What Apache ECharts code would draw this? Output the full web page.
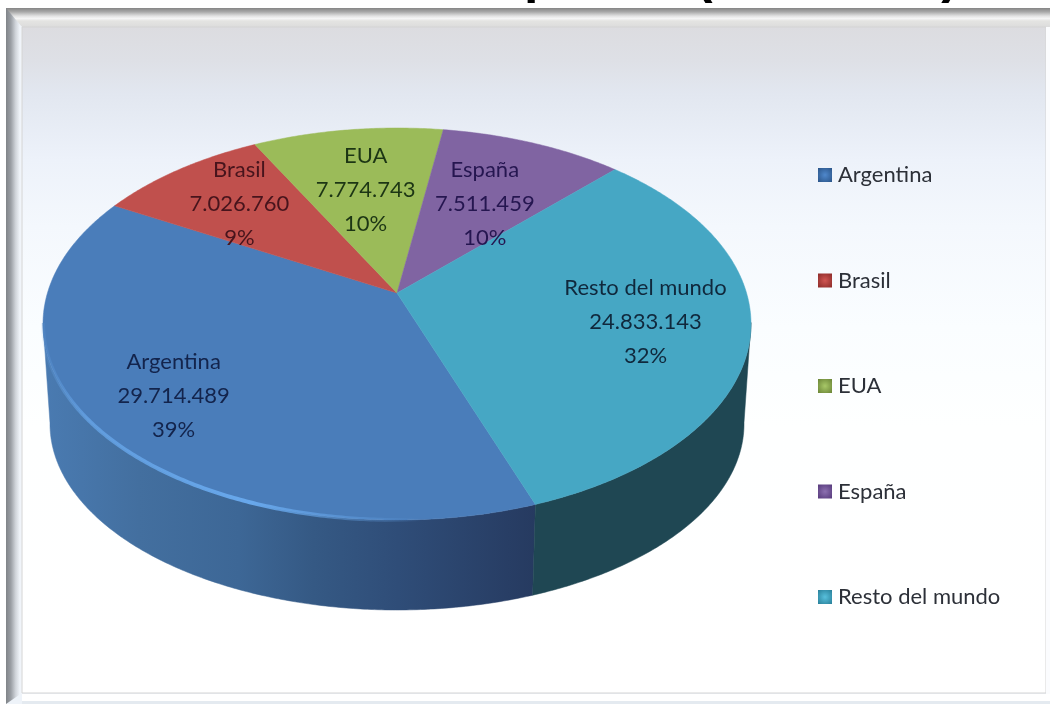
<!DOCTYPE html>
<html><head><meta charset="utf-8">
<style>html,body{margin:0;padding:0;background:#fff;overflow:hidden}#c{width:1050px;height:704px}</style>
<script src="https://cdn.jsdelivr.net/npm/echarts@6/dist/echarts.min.js"></script>
</head><body><div id="c"></div>
<script>
const categories = ['Argentina', 'Brasil', 'EUA', 'España', 'Resto del mundo'];
const values = [29714489, 7026760, 7774743, 7511459, 24833143];

const topColors = ['#4a7dba', '#c0504d', '#9bbb59', '#8064a2', '#46a7c4'];
const labelColors = ['#13244c', '#47141c', '#1c3514', '#251650', '#10283c'];
const legendDark = ['#2a5488', '#8a2a28', '#6a8436', '#55397a', '#287f99'];
const legendLight = ['#4f88cc', '#d05552', '#a8c868', '#8c70b0', '#58c0dc'];
const labelRadius = [0.77, 0.70, 0.60, 0.57, 0.71];
const labelTurn = [0, 0, 0, 2, 0];
const sideFill = [
  {type:'linear',x:40,y:0,x2:537,y2:0,global:true,colorStops:[
    {offset:0,color:'#4a7bb2'},{offset:.2,color:'#436f9f'},{offset:.4,color:'#3d6796'},
    {offset:.55,color:'#355984'},{offset:.72,color:'#2f4d78'},{offset:1,color:'#263a60'}]},
  null, null, null, '#1f4753'
];

const firstAngle = 160.3;
const topE = {cx:397, cy:324, rx:354, ry:196};
const botE = {cx:397, cy:424, rx:347, ry:186};
const k = 0.158, s = Math.sqrt(1 - k * k);
const total = values.reduce((a, b) => a + b, 0);
const rad = d => d * Math.PI / 180;

function unit(r, deg) {
  const v0 = -r * Math.cos(rad(deg)), u0 = r * Math.sin(rad(deg));
  const d = 1 - k * v0;
  return [u0 * s / d, (v0 - k) / d];
}
const onE = (e, p) => [e.cx + e.rx * p[0], e.cy + e.ry * p[1]];

function sliceRange(i) {
  let a = firstAngle;
  for (let j = 0; j < i; j++) a += values[j] / total * 360;
  return [a, a + values[i] / total * 360];
}

function renderSlice(params, api) {
  const i = params.seriesIndex;
  const share = api.value(0) / total;
  const [a, b] = sliceRange(i);
  const topPts = [onE(topE, unit(0, a))];
  const sideTop = [], sideBot = [];
  const n = Math.ceil(b - a) * 2;
  for (let q = 0; q <= n; q++) {
    const th = a + (b - a) * q / n;
    const p = unit(1, th);
    topPts.push(onE(topE, p));
    if (p[1] >= -0.01) { sideTop.push(onE(topE, p)); sideBot.push(onE(botE, p)); }
  }
  const children = [];
  if (sideTop.length > 1 && sideFill[i]) {
    children.push({type:'polygon', z2:0, shape:{points:sideTop.concat(sideBot.reverse())},
      style:{fill:sideFill[i], stroke:sideFill[i], lineWidth:0.5}});
  }
  children.push({type:'polygon', z2:1, shape:{points:topPts},
    style:{fill:topColors[i], stroke:topColors[i], lineWidth:0.5}});
  if (i === 0) {
    children.push({type:'polyline', z2:2, shape:{points:sideTop},
      style:{fill:null, lineWidth:4,
        stroke:{type:'linear',x:42,y:0,x2:420,y2:0,global:true,colorStops:[
          {offset:0,color:'rgba(104,168,236,.1)'},{offset:.12,color:'rgba(104,168,236,.7)'},{offset:.55,color:'rgba(104,168,236,1)'},
          {offset:1,color:'rgba(104,168,236,0)'}]}}});
  }
  const lp = onE(topE, unit(labelRadius[i], (a + b) / 2 + labelTurn[i]));
  const txt = categories[i] + '\n' +
    String(api.value(0)).replace(/\B(?=(\d{3})+$)/g, '.') + '\n' + Math.round(share * 100) + '%';
  children.push({type:'text', z2:10, x:lp[0], y:lp[1],
    style:{text:txt, fill:labelColors[i], font:'22px Lato', lineHeight:34,
      align:'center', verticalAlign:'middle'}});
  return {type:'group', children};
}

const vgrad = (y0, y1, stops) => ({type:'linear',x:0,y:y0,x2:0,y2:y1,global:true,
  colorStops:stops.map(p => ({offset:p[0],color:p[1]}))});
const hgrad = (x0, x1, stops) => ({type:'linear',x:x0,y:0,x2:x1,y2:0,global:true,
  colorStops:stops.map(p => ({offset:p[0],color:p[1]}))});

const titleBits = [['p', 540], ['(', 704], [')', 950]];

const frame = [
  {type:'rect', z:-5, shape:{x:6,y:8,width:1044,height:696}, style:{fill:'#eef3f9'}},
  {type:'rect', z:-4, shape:{x:6,y:8,width:1044,height:19},
   style:{fill:vgrad(8,27,[[0,'#858585'],[.2,'#a8a8a8'],[.42,'#e2e2e2'],[.55,'#f6f6f6'],[.68,'#e4e4e2'],[1,'#dcdcdc']])}},
  {type:'polygon', z:-3, shape:{points:[[6,8],[22,27],[22,693],[6,704]]},
   style:{fill:hgrad(6,22,[[0,'#808488'],[.3,'#9a9ea4'],[.6,'#d0d4da'],[.85,'#eef2f8'],[1,'#f4f8fc']])}},
  {type:'rect', z:-2, shape:{x:22,y:27,width:1024,height:666},
   style:{fill:vgrad(27,693,[[0,'#dcdce0'],[.05,'#dee0e6'],[.1,'#e2e7f0'],[.2,'#edf2fa'],[.3,'#f4f8fd'],[.45,'#fafdff'],[.6,'#feffff'],[1,'#ffffff']]),
          stroke:'#d4d4d4', lineWidth:1}},
  {type:'rect', z:-2, shape:{x:1046,y:27,width:4,height:677}, style:{fill:'#fbfcfe'}},
  {type:'rect', z:-2, shape:{x:22,y:694,width:1028,height:7}, style:{fill:'#ffffff'}},
  {type:'rect', z:-2, shape:{x:22,y:701,width:1028,height:3}, style:{fill:'#e4eaf0'}}
].concat(titleBits.map(t => ({type:'text', z:1, x:t[1], y:4,
  style:{text:t[0], font:'bold 52px "Liberation Sans"', fill:'#000', align:'center', verticalAlign:'bottom'}
  })));

const chart = echarts.init(document.getElementById('c'), null, {renderer:'canvas'});
chart.setOption({
  animation:false,
  backgroundColor:'#ffffff',
  tooltip:{show:false},
  graphic:{elements:frame},
  legend:{
    orient:'vertical', left:818, top:162, padding:0, itemWidth:14, itemHeight:14, itemGap:79.5, itemStyle:{borderWidth:0},
    icon:'rect', selectedMode:false,
    textStyle:{fontFamily:'Lato', fontSize:22, color:'#2c3038', lineHeight:26, padding:[0,0,0,1]},
    data:categories.map((c, i) => ({name:c, itemStyle:{color:{type:'radial',x:.5,y:.5,r:.7,
      colorStops:[{offset:0,color:legendLight[i]},{offset:1,color:legendDark[i]}]}}}))
  },
  series:categories.map((c, i) => ({
    type:'custom', name:c, coordinateSystem:'none', silent:true,
    itemStyle:{color:topColors[i]},
    renderItem:renderSlice, data:[[values[i]]]
  }))
});
</script></body></html>
